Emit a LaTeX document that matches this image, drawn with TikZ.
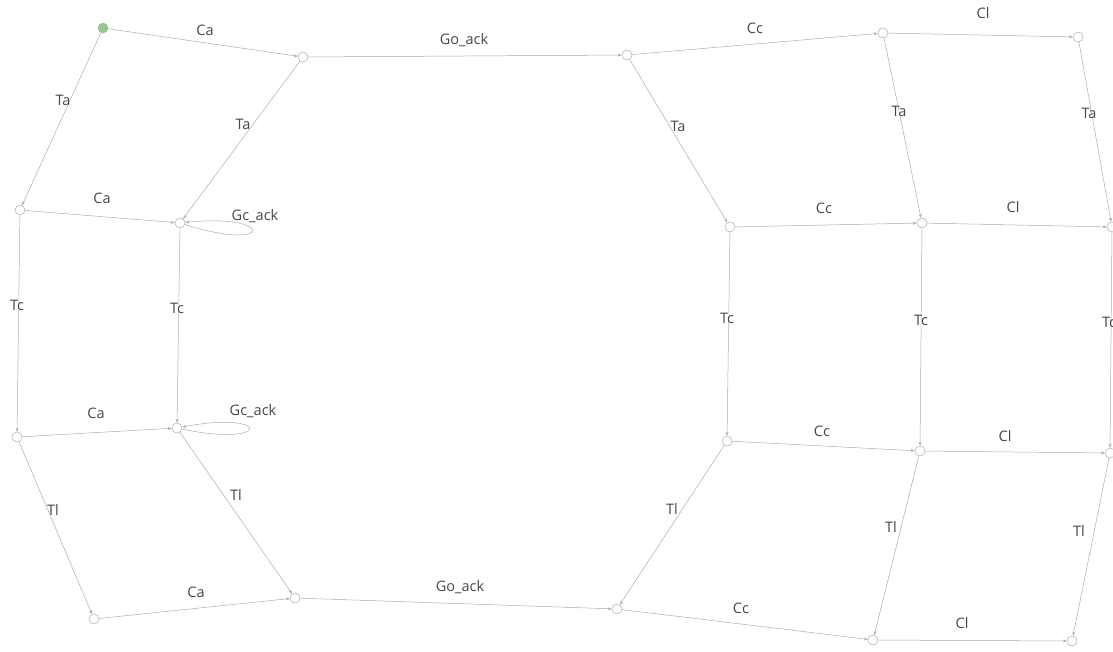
\documentclass[tikz,border=0pt]{standalone}
\usepackage{fontspec}
\setmainfont{Open Sans}
\usetikzlibrary{arrows.meta}
\definecolor{GrisArista}{RGB}{172,172,172}
\definecolor{GrisTexto}{RGB}{70,70,70}
\definecolor{VerdeInicio}{RGB}{150,200,140}

\begin{document}
\begin{tikzpicture}[x=1pt,y=-1pt,>={Stealth[length=4pt,width=3pt]},
    st/.style={circle,draw=GrisArista,fill=white,line width=0.5pt,inner sep=0pt,minimum size=10pt},
    ini/.style={st,draw=VerdeInicio,fill=VerdeInicio},
    tr/.style={->,draw=GrisArista,line width=0.5pt},
    lbl/.style={text=GrisTexto,font=\fontsize{14.5}{16}\selectfont,inner sep=1pt}]
  \useasboundingbox (0,0) rectangle (1113,651);
  % estados
  \node[ini] (a1) at (103,28) {};
  \node[st] (a2) at (303,57) {};
  \node[st] (a3) at (627,55) {};
  \node[st] (a4) at (883,33) {};
  \node[st] (a5) at (1078,37) {};
  \node[st] (b1) at (20,210) {};
  \node[st] (b2) at (180,223) {};
  \node[st] (b3) at (730,227) {};
  \node[st] (b4) at (922,223) {};
  \node[st] (b5) at (1112,227) {};
  \node[st] (c1) at (17,437) {};
  \node[st] (c2) at (177,428) {};
  \node[st] (c3) at (727,441) {};
  \node[st] (c4) at (920,451) {};
  \node[st] (c5) at (1110,453) {};
  \node[st] (d1) at (94,619) {};
  \node[st] (d2) at (295,598) {};
  \node[st] (d3) at (617,609) {};
  \node[st] (d4) at (873,640) {};
  \node[st] (d5) at (1072,641) {};
  % fila superior
  \draw[tr] (a1) -- (a2) node[lbl] at (205,30) {Ca};
  \draw[tr] (a2) -- (a3) node[lbl] at (464,40) {Go\_ack};
  \draw[tr] (a3) -- (a4) node[lbl] at (755,28) {Cc};
  \draw[tr] (a4) -- (a5) node[lbl] at (983,13) {Cl};
  \draw[tr] (a1) -- (b1) node[lbl] at (63,100) {Ta};
  \draw[tr] (a2) -- (b2) node[lbl] at (243,124) {Ta};
  \draw[tr] (a3) -- (b3) node[lbl] at (678,126) {Ta};
  \draw[tr] (a4) -- (b4) node[lbl] at (899,111) {Ta};
  \draw[tr] (a5) -- (b5) node[lbl] at (1089,113) {Ta};
  % segunda fila
  \draw[tr] (b1) -- (b2) node[lbl] at (102,198) {Ca};
  \draw[tr] (b2) .. controls +(95,30) and +(95,-10) .. (b2) node[lbl] at (255,216) {Gc\_ack};
  \draw[tr] (b3) -- (b4) node[lbl] at (824,208) {Cc};
  \draw[tr] (b4) -- (b5) node[lbl] at (1013,207) {Cl};
  \draw[tr] (b1) -- (c1) node[lbl] at (17,305) {Tc};
  \draw[tr] (b2) -- (c2) node[lbl] at (177,308) {Tc};
  \draw[tr] (b3) -- (c3) node[lbl] at (727,318) {Tc};
  \draw[tr] (b4) -- (c4) node[lbl] at (921,320) {Tc};
  \draw[tr] (b5) -- (c5) node[lbl] at (1109,322) {Tc};
  % tercera fila
  \draw[tr] (c1) -- (c2) node[lbl] at (96,413) {Ca};
  \draw[tr] (c2) .. controls +(95,20) and +(95,-18) .. (c2) node[lbl] at (253,411) {Gc\_ack};
  \draw[tr] (c3) -- (c4) node[lbl] at (822,431) {Cc};
  \draw[tr] (c4) -- (c5) node[lbl] at (1005,436) {Cl};
  \draw[tr] (c1) -- (d1) node[lbl] at (53,510) {Tl};
  \draw[tr] (c2) -- (d2) node[lbl] at (236,495) {Tl};
  \draw[tr] (c3) -- (d3) node[lbl] at (672,509) {Tl};
  \draw[tr] (c4) -- (d4) node[lbl] at (891,527) {Tl};
  \draw[tr] (c5) -- (d5) node[lbl] at (1079,531) {Tl};
  % fila inferior
  \draw[tr] (d1) -- (d2) node[lbl] at (196,592) {Ca};
  \draw[tr] (d2) -- (d3) node[lbl] at (460,587) {Go\_ack};
  \draw[tr] (d3) -- (d4) node[lbl] at (741,608) {Cc};
  \draw[tr] (d4) -- (d5) node[lbl] at (962,623) {Cl};
\end{tikzpicture}
\end{document}
